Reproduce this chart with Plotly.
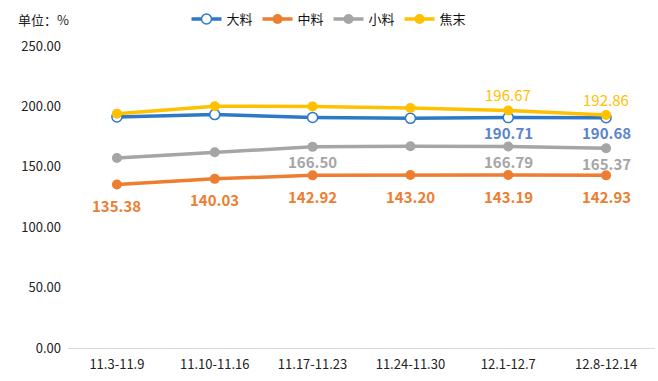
import plotly.graph_objects as go

categories = ["11.3-11.9", "11.10-11.16", "11.17-11.23", "11.24-11.30", "12.1-12.7", "12.8-12.14"]
da_liao = [191.3, 193.2, 190.9, 190.1, 190.71, 190.68]
zhong_liao = [135.38, 140.03, 142.92, 143.20, 143.19, 142.93]
xiao_liao = [157.3, 162.1, 166.50, 167.0, 166.79, 165.37]
jiao_mo = [194.0, 200.1, 200.0, 198.7, 196.67, 192.86]

# which points carry a data label
da_labels = [False, False, False, False, True, True]
zhong_labels = [True, True, True, True, True, True]
xiao_labels = [False, False, True, False, True, True]
jiao_labels = [False, False, False, False, True, True]

FONT = "Noto Sans CJK SC, Open Sans, sans-serif"
C_DA = "#2E78C8"
C_ZHONG = "#ED7D31"
C_XIAO = "#A5A5A5"
C_JIAO = "#FFC000"

W, H = 658, 381
ML, MR, MT, MB = 68, 3, 46, 33
PW, PH = W - ML - MR, H - MT - MB

fig = go.Figure()
fig.add_trace(go.Scatter(x=categories, y=da_liao, name="大料", mode="lines+markers",
                         line=dict(color=C_DA, width=3.5),
                         marker=dict(size=10, color="white", line=dict(color=C_DA, width=1.5))))
fig.add_trace(go.Scatter(x=categories, y=zhong_liao, name="中料", mode="lines+markers",
                         line=dict(color=C_ZHONG, width=3.5),
                         marker=dict(size=10, color=C_ZHONG)))
fig.add_trace(go.Scatter(x=categories, y=xiao_liao, name="小料", mode="lines+markers",
                         line=dict(color=C_XIAO, width=3.5),
                         marker=dict(size=10, color=C_XIAO)))
fig.add_trace(go.Scatter(x=categories, y=jiao_mo, name="焦末", mode="lines+markers",
                         line=dict(color=C_JIAO, width=3.5),
                         marker=dict(size=10, color=C_JIAO)))

annotations = []
def add_labels(values, flags, color, shift, bold):
    for c, v, f in zip(categories, values, flags):
        if f:
            t = f"{v:.2f}"
            annotations.append(dict(x=c, y=v, text=f"<b>{t}</b>" if bold else t, showarrow=False,
                                    yshift=shift, font=dict(size=15, color=color, family=FONT)))

add_labels(da_liao, da_labels, "#5B84CC", -15, True)
add_labels(zhong_liao, zhong_labels, C_ZHONG, -21, True)
add_labels(xiao_liao, xiao_labels, "#A5A5A5", -15, True)
add_labels(jiao_mo, jiao_labels, C_JIAO, 16, False)

annotations.append(dict(x=(16 - ML) / PW, y=(H - MB - 19) / PH, xref="paper", yref="paper",
                        text="单位：%", showarrow=False, xanchor="left", yanchor="middle",
                        font=dict(size=13, color="#222222", family=FONT)))

fig.update_layout(
    width=W, height=H,
    margin=dict(l=ML, r=MR, t=MT, b=MB, autoexpand=False),
    paper_bgcolor="white", plot_bgcolor="white",
    font=dict(family=FONT, size=13, color="#222222"),
    showlegend=True,
    legend=dict(orientation="h", x=0.5, xref="container", xanchor="center",
                y=1 - 19 / H, yref="container", yanchor="middle",
                font=dict(size=13, color="#111111"), itemwidth=30, tracegroupgap=0),
    annotations=annotations,
    xaxis=dict(type="category", range=[-0.5, 5.5], showgrid=False, showline=True,
               linecolor="#D9D9D9", linewidth=1, ticks="", automargin=False,
               ticklabelstandoff=4, tickfont=dict(size=13, color="#222222")),
    yaxis=dict(range=[0, 250], dtick=50, tickformat=".2f", showgrid=False, zeroline=True,
               zerolinecolor="#D9D9D9", showline=False, ticks="", automargin=False,
               ticklabelstandoff=6, tickfont=dict(size=13, color="#222222")),
)

fig.write_html("out.html", config={"displayModeBar": False},
               post_script="document.body.style.margin='0';")
